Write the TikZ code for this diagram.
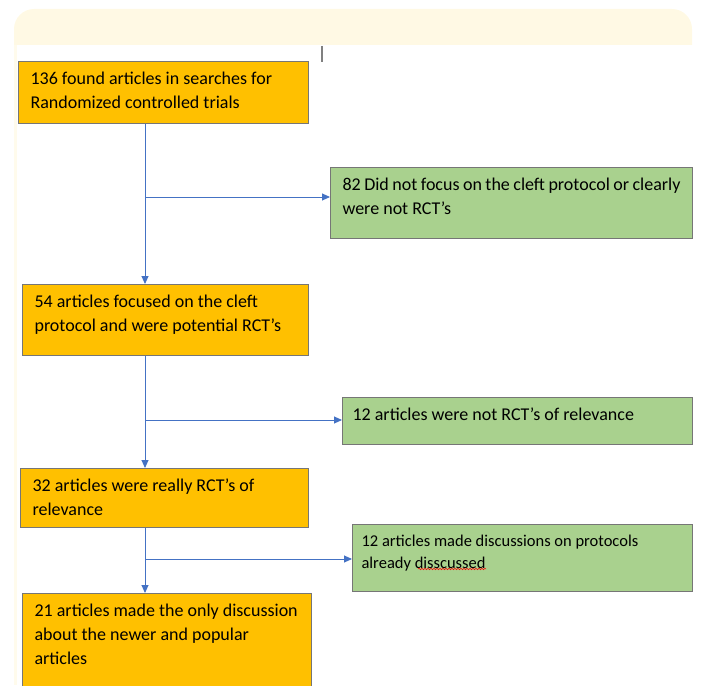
\documentclass[tikz,border=0pt]{standalone}
\usepackage{fontspec}
\setmainfont{Carlito}
\usepackage{tikz}
\usetikzlibrary{arrows.meta,decorations.pathmorphing}

\definecolor{boxorange}{HTML}{FFC000}
\definecolor{boxgreen}{HTML}{A9D18E}
\definecolor{boxline}{HTML}{767676}
\definecolor{flowblue}{HTML}{4472C4}
\definecolor{bandyellow}{HTML}{FFF9E4}

\newcommand{\boxtxt}[3]{\parbox[t][#2pt][t]{#1pt}{#3}}

\begin{document}
\begin{tikzpicture}[x=1pt,y=-1pt,>={Triangle[length=8pt,width=7pt]},
                    font=\fontsize{18}{24}\selectfont]
          \tikzstyle{orangebox}=[draw=boxline,line width=1.1pt,fill=boxorange,
                                 anchor=north west,inner xsep=12pt,inner ysep=10pt]
          \tikzstyle{greenbox}=[orangebox,fill=boxgreen]
          \tikzstyle{flow}=[->,draw=flowblue,fill=flowblue,line width=0.9pt]

          \useasboundingbox (0,0) rectangle (708,685);

          % header band of the page
          \fill[bandyellow] (14,45) [rounded corners=20pt] -- (14,9) -- (692,9)
                [sharp corners] -- (692,45) -- cycle;
          \fill[bandyellow!70!white] (14,45) rectangle (17,685);
          \draw[gray,line width=1.2pt] (322,46) -- (322,62);

          \node[orangebox] (b1) at (18,61)
                {\boxtxt{266}{42}{136 found articles in searches for\\Randomized controlled trials}};
          \node[greenbox]  (g1) at (330,167)
                {\boxtxt{338}{51}{82 Did not focus on the cleft protocol or clearly\\were not RCT’s}};
          \node[orangebox] (b2) at (22,284)
                {\boxtxt{262}{51}{54 articles focused on the cleft\\protocol and were potential RCT’s}};
          \node[greenbox,inner xsep=10pt] (g2) at (342,397)
                {\boxtxt{330}{27}{12 articles were not RCT’s of relevance}};
          \node[orangebox] (b3) at (20,468)
                {\boxtxt{264}{39}{32 articles were really RCT’s of\\relevance}};
          \node[greenbox,inner xsep=9pt,font=\fontsize{16.5}{22}\selectfont] (g3) at (352,524)
                {\boxtxt{322}{47}{12 articles made discussions on protocols\\already disscussed}};
          \node[orangebox] (b4) at (22,593)
                {\boxtxt{265}{75}{21 articles made the only discussion\\about the newer and popular\\articles}};

          % trunk and branches
          \coordinate (t)  at (145,0);
          \coordinate (j1) at (145,197);
          \coordinate (j2) at (145,420);
          \coordinate (j3) at (145,559);

          \draw[flow] (b1.south -| t) -- (b2.north -| t);
          \draw[flow] (b2.south -| t) -- (b3.north -| t);
          \draw[flow] (b3.south -| t) -- (b4.north -| t);
          \draw[flow] (j1) -- (j1 -| g1.west);
          \draw[flow] (j2) -- (j2 -| g2.west);
          \draw[flow] (j3) -- (j3 -| g3.west);

          % spell check mark
          \draw[red,line width=0.5pt,decorate,
                decoration={snake,amplitude=0.8pt,segment length=3pt}] (418,569) -- (486,569);

        \end{tikzpicture}
\end{document}
